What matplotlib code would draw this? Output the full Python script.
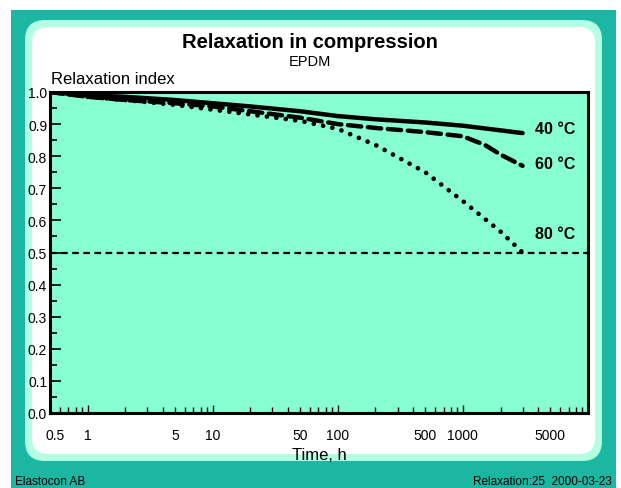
import matplotlib
matplotlib.use("Agg")
import matplotlib.pyplot as plt
from matplotlib.patches import FancyBboxPatch, Rectangle
from matplotlib.transforms import IdentityTransform, offset_copy
from matplotlib.ticker import FixedLocator, NullFormatter, FixedFormatter

plt.rcParams['font.family'] = ['Liberation Sans', 'DejaVu Sans']

x40 = [0.5, 1, 2, 5, 10, 20, 50, 100, 200, 500, 1000, 3000]
y40 = [1.0, 0.99, 0.985, 0.975, 0.965, 0.955, 0.94, 0.925, 0.915, 0.905, 0.895, 0.872]
x60 = [0.5, 1, 2, 5, 10, 20, 50, 100, 200, 500, 1000, 1500, 2000, 3000]
y60 = [1.0, 0.985, 0.975, 0.965, 0.955, 0.94, 0.92, 0.9, 0.888, 0.875, 0.862, 0.835, 0.805, 0.77]
x80 = [0.5, 1, 2, 5, 10, 20, 50, 100, 200, 500, 1000, 2000, 3000]
y80 = [1.0, 0.985, 0.975, 0.96, 0.945, 0.93, 0.91, 0.885, 0.835, 0.75, 0.66, 0.565, 0.5]
series_labels = ["40 °C", "60 °C", "80 °C"]
label_y = [0.885, 0.776, 0.56]
limit_value = 0.5
xtick_vals = [0.5, 1, 5, 10, 50, 100, 500, 1000, 5000]
xtick_labels = ["0.5", "1", "5", "10", "50", "100", "500", "1000", "5000"]
ytick_vals = [0.0, 0.1, 0.2, 0.3, 0.4, 0.5, 0.6, 0.7, 0.8, 0.9, 1.0]

W, H = 621, 489
fig = plt.figure(figsize=(W / 100, H / 100), dpi=100)
fig.patch.set_facecolor('white')

teal = '#1bb7a2'
mint = '#b4ffe4'
face = '#88ffd2'

def px(x0, y0, x1, y1):
    return x0, H - y1, x1 - x0, y1 - y0

ident = IdentityTransform()
x, y, w, h = px(11, 11, 616, 489)
fig.patches.append(Rectangle((x, y), w, h, transform=ident, facecolor=teal, edgecolor='none', zorder=-3))
x, y, w, h = px(25, 21, 602, 462)
fig.patches.append(FancyBboxPatch((x + 20, y + 20), w - 40, h - 40, boxstyle='round,pad=20',
                                  transform=ident, facecolor=mint, edgecolor='none', zorder=-2))
x, y, w, h = px(32, 28, 595, 455)
fig.patches.append(FancyBboxPatch((x + 16, y + 16), w - 32, h - 32, boxstyle='round,pad=16',
                                  transform=ident, facecolor='white', edgecolor='none', zorder=-1))

ax = fig.add_axes([50 / W, (H - 414) / H, (588 - 50) / W, (414 - 93) / H])
ax.set_facecolor(face)
ax.set_xscale('log')
ax.set_xlim(0.5, 10000)
ax.set_ylim(0, 1.0)

ax.plot(x40, y40, color='black', lw=3.2, solid_capstyle='round', solid_joinstyle='round', zorder=5)
ax.plot(x60, y60, color='black', lw=3.2, linestyle=(0, (3.0, 1.5)), dash_capstyle='round', zorder=5)
ax.plot(x80, y80, color='black', lw=3.4, linestyle=(0, (0.01, 2.0)), dash_capstyle='round', zorder=5)
ax.axhline(limit_value, color='black', lw=1.6, linestyle=(0, (3, 2)), zorder=4)

for lab, ly in zip(series_labels, label_y):
    ax.text(3800, ly, lab, fontsize=11.5, fontweight='bold', va='center', ha='left')

for s in ax.spines.values():
    s.set_linewidth(2.2)
    s.set_zorder(6)

ax.xaxis.set_major_locator(FixedLocator([1, 10, 100, 1000]))
ax.xaxis.set_major_formatter(NullFormatter())
minors = []
for d in [0.1, 1, 10, 100, 1000]:
    for m in range(2, 10):
        v = d * m
        if 0.5 < v < 10000:
            minors.append(v)
ax.xaxis.set_minor_locator(FixedLocator(minors))
ax.xaxis.set_minor_formatter(NullFormatter())
ax.tick_params(axis='x', which='major', direction='in', length=6, width=1, bottom=True, top=False)
ax.tick_params(axis='x', which='minor', direction='in', length=4, width=1, bottom=True, top=False)

xtr = ax.get_xaxis_transform()
for v, lab in zip(xtick_vals, xtick_labels):
    tr = offset_copy(xtr, fig=fig, x=5 if v == 0.5 else 0, y=0, units='dots')
    ax.text(v, -0.07, lab, transform=tr, ha='center', va='center', fontsize=10)
ax.text(0.5, -0.13, "Time, h", transform=ax.transAxes, ha='center', va='center', fontsize=12)

ax.yaxis.set_major_locator(FixedLocator(ytick_vals))
ax.yaxis.set_major_formatter(FixedFormatter([f"{v:.1f}" for v in ytick_vals]))
ax.yaxis.set_minor_locator(FixedLocator([v + 0.05 for v in ytick_vals[:-1]]))
ax.tick_params(axis='y', which='major', direction='in', length=8, width=1.2, left=True, right=False,
               labelsize=10, pad=2)
ax.tick_params(axis='y', which='minor', direction='in', length=5, width=1.2, left=True, right=False)

fig.text(310 / W, 1 - 43 / H, "Relaxation in compression", ha='center', va='center', fontsize=14.5, fontweight='bold')
fig.text(310 / W, 1 - 62 / H, "EPDM", ha='center', va='center', fontsize=10.5)
fig.text(51 / W, 1 - 80 / H, "Relaxation index", ha='left', va='center', fontsize=12)
fig.text(15 / W, 1 - 482 / H, "Elastocon AB", ha='left', va='center', fontsize=8.5)
fig.text(612 / W, 1 - 482 / H, "Relaxation:25  2000-03-23", ha='right', va='center', fontsize=8.5)

fig.savefig('out.png', dpi=100)
